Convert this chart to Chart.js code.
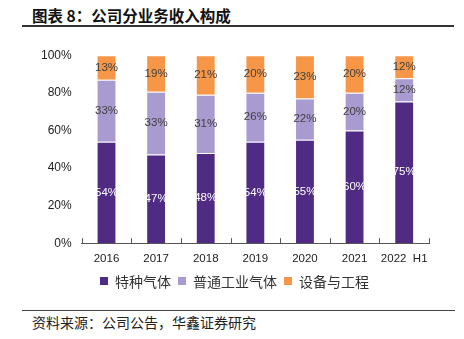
<!DOCTYPE html>
<html>
<head>
<meta charset="utf-8">
<script src="https://cdn.jsdelivr.net/npm/chart.js@4.4.1/dist/chart.umd.min.js"></script>
<style>
    html, body { margin: 0; padding: 0; background: #fff; }
    #page { position: relative; width: 464px; height: 339px; overflow: hidden; font-family: "Noto Sans CJK SC", sans-serif; }
    #title { position: absolute; left: 32px; top: 4px; font-size: 15.5px; font-weight: bold; color: #111; line-height: 22px; }
    #topline { position: absolute; left: 22px; top: 25px; width: 432px; height: 2px; background: #333; }
    #botline { position: absolute; left: 22px; top: 310px; width: 433px; height: 1px; background: #444; }
    #source { position: absolute; left: 32px; top: 312px; font-size: 14px; color: #222; line-height: 20px; }
    #box { position: absolute; left: 0; top: 38px; width: 464px; height: 237px; }
    #legend { position: absolute; left: 100px; top: 271px; height: 20px; display: flex; align-items: center; font-size: 14px; color: #333; white-space: nowrap; }
    #legend .item { display: flex; align-items: center; margin-right: 7px; }
    #legend .sw { width: 8px; height: 8px; margin-right: 7px; }
</style>
</head>
<body>
<div id="page">
    <div id="title">图表 8：公司分业务收入构成</div>
    <div id="topline"></div>
    <div id="box"><canvas id="chart"></canvas></div>
    <div id="legend"></div>
    <div id="botline"></div>
    <div id="source">资料来源：公司公告，华鑫证券研究</div>
</div>
<script>
const years = ["2016", "2017", "2018", "2019", "2020", "2021", "2022  H1"];
// shares in %, bars fill to 100 (labels show rounded values)
const specialGas = [54, 47.2, 48, 54, 55, 60, 75.4];
const industrialGas = [33, 33.4, 31, 26, 22, 20, 12.4];
const equipment = [13, 19.4, 21, 20, 23, 20, 12.2];
const yTicks = [0, 20, 40, 60, 80, 100];

// percent labels in the middle of each segment (no datalabels plugin offline)
const segmentLabels = {
    id: "segmentLabels",
    afterDatasetsDraw(chart) {
        const ctx = chart.ctx;
        ctx.save();
        ctx.font = "11.5px 'Liberation Sans', sans-serif";
        ctx.textAlign = "center";
        ctx.textBaseline = "middle";
        chart.data.datasets.forEach((ds, di) => {
            const meta = chart.getDatasetMeta(di);
            meta.data.forEach((bar, i) => {
                const p = bar.getProps(["x", "y", "base"], true);
                ctx.fillStyle = di === 0 ? "#ffffff" : "#404040";
                ctx.fillText(Math.round(ds.data[i]) + "%", p.x, (p.y + p.base) / 2);
            });
        });
        ctx.restore();
    }
};

// small tick marks between categories, pointing up into the plot
const innerTicks = {
    id: "innerTicks",
    afterDraw(chart) {
        const xs = chart.scales.x;
        const ctx = chart.ctx;
        const n = years.length;
        ctx.save();
        ctx.strokeStyle = "#555";
        ctx.lineWidth = 1;
        for (let i = 0; i <= n; i++) {
            let x;
            if (i === 0) x = xs.left;
            else if (i === n) x = xs.right;
            else x = (xs.getPixelForValue(i - 1) + xs.getPixelForValue(i)) / 2;
            x = Math.round(x) + 0.5;
            ctx.beginPath();
            ctx.moveTo(x, xs.top);
            ctx.lineTo(x, xs.top - 5);
            ctx.stroke();
        }
        ctx.restore();
    }
};

// html legend, built from the chart's datasets
const htmlLegend = {
    id: "htmlLegend",
    afterUpdate(chart) {
        const box = document.getElementById("legend");
        box.innerHTML = "";
        chart.data.datasets.forEach(ds => {
            const item = document.createElement("div");
            item.className = "item";
            const sw = document.createElement("span");
            sw.className = "sw";
            sw.style.background = ds.backgroundColor;
            const txt = document.createElement("span");
            txt.textContent = ds.label;
            item.appendChild(sw);
            item.appendChild(txt);
            box.appendChild(item);
        });
    }
};

new Chart(document.getElementById("chart"), {
    type: "bar",
    data: {
        labels: years,
        datasets: [
            { label: "特种气体", data: specialGas, backgroundColor: "#4f2b84", borderColor: "rgba(255,255,255,0.35)", borderWidth: 1 },
            { label: "普通工业气体", data: industrialGas, backgroundColor: "#a99ad0", borderColor: "rgba(255,255,255,0.35)", borderWidth: 1 },
            { label: "设备与工程", data: equipment, backgroundColor: "#f79646", borderColor: "rgba(255,255,255,0.35)", borderWidth: 1 }
        ]
    },
    options: {
        responsive: true,
        maintainAspectRatio: false,
        animation: false,
        devicePixelRatio: 1,
        layout: { padding: { top: 13, right: 35, left: 31, bottom: 0 } },
        datasets: {
            bar: { categoryPercentage: 1, barPercentage: 0.4 }
        },
        plugins: {
            legend: { display: false },
            tooltip: { enabled: false }
        },
        scales: {
            x: {
                stacked: true,
                grid: { display: false, drawTicks: false },
                border: { display: true, color: "#555", width: 1 },
                ticks: {
                    color: "#222",
                    padding: 9,
                    autoSkip: false,
                    maxRotation: 0,
                    font: { family: "'Liberation Sans', sans-serif", size: 11.5 }
                }
            },
            y: {
                stacked: true,
                min: 0,
                max: 100,
                afterBuildTicks: axis => { axis.ticks = yTicks.map(v => ({ value: v })); },
                grid: { display: false, drawTicks: false },
                border: { display: false },
                ticks: {
                    color: "#222",
                    padding: 10,
                    font: { family: "'Liberation Sans', sans-serif", size: 12 },
                    callback: v => v + "%"
                }
            }
        }
    },
    plugins: [segmentLabels, innerTicks, htmlLegend]
});
</script>
</body>
</html>
